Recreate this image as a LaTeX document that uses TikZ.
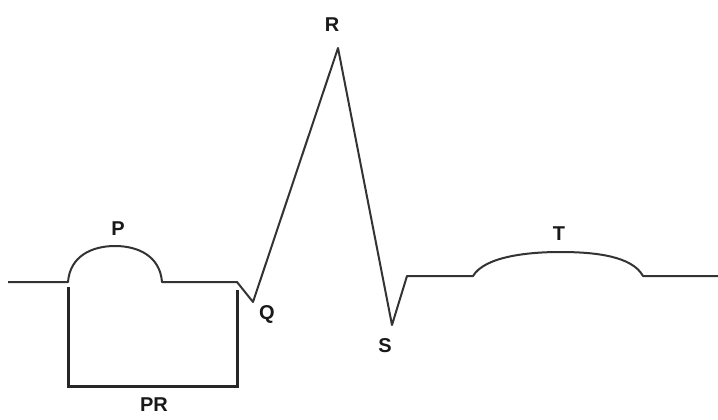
\documentclass[tikz,border=0pt]{standalone}
\usepackage{fontspec}
\setmainfont{Liberation Sans}
\begin{document}
\begin{tikzpicture}[x=1pt,y=-1pt,
  wave/.style={draw=black!80,line width=2pt,line join=round},
  box/.style={draw=black!85,line width=3pt},
  lbl/.style={font=\fontsize{20}{20}\selectfont\bfseries,text=black!90,inner sep=0pt}]
\useasboundingbox[fill=white] (0,0) rectangle (718,420);
% key points
\coordinate (start) at (8,282);
\coordinate (p0) at (68,282);
\coordinate (p1) at (162,282);
\coordinate (q0) at (237,282);
\coordinate (q) at (253,302);
\coordinate (r) at (338,48);
\coordinate (s) at (392,325);
\coordinate (s1) at (407,276);
\coordinate (t0) at (473,276);
\coordinate (ttop) at (560,252);
\coordinate (t1) at (643,276);
\coordinate (end) at (718,276);
\draw[wave] (start) -- (p0)
  .. controls (70,256) and (92,246) .. (115,246)
  .. controls (138,246) and (160,256) .. (p1)
  -- (q0) -- (q) -- (r) -- (s) -- (s1) -- (t0)
  .. controls (485,256) and (530,252) .. (ttop)
  .. controls (595,252) and (632,256) .. (t1) -- (end);
% PR bracket
\coordinate (b0) at (68,287);
\coordinate (b1) at (68,386);
\coordinate (b2) at (237,386);
\coordinate (b3) at (237,290);
\draw[box] (b0) -- (b1) -- (b2) -- (b3);
% labels
\node[lbl] (P) at (118,229) {P};
\node[lbl] (Q) at (267,314) {Q};
\node[lbl] (R) at (332,25) {R};
\node[lbl] (S) at (385,346) {S};
\node[lbl] (T) at (559,234) {T};
\node[lbl] (PR) at (154,405) {PR};
\end{tikzpicture}
\end{document}
